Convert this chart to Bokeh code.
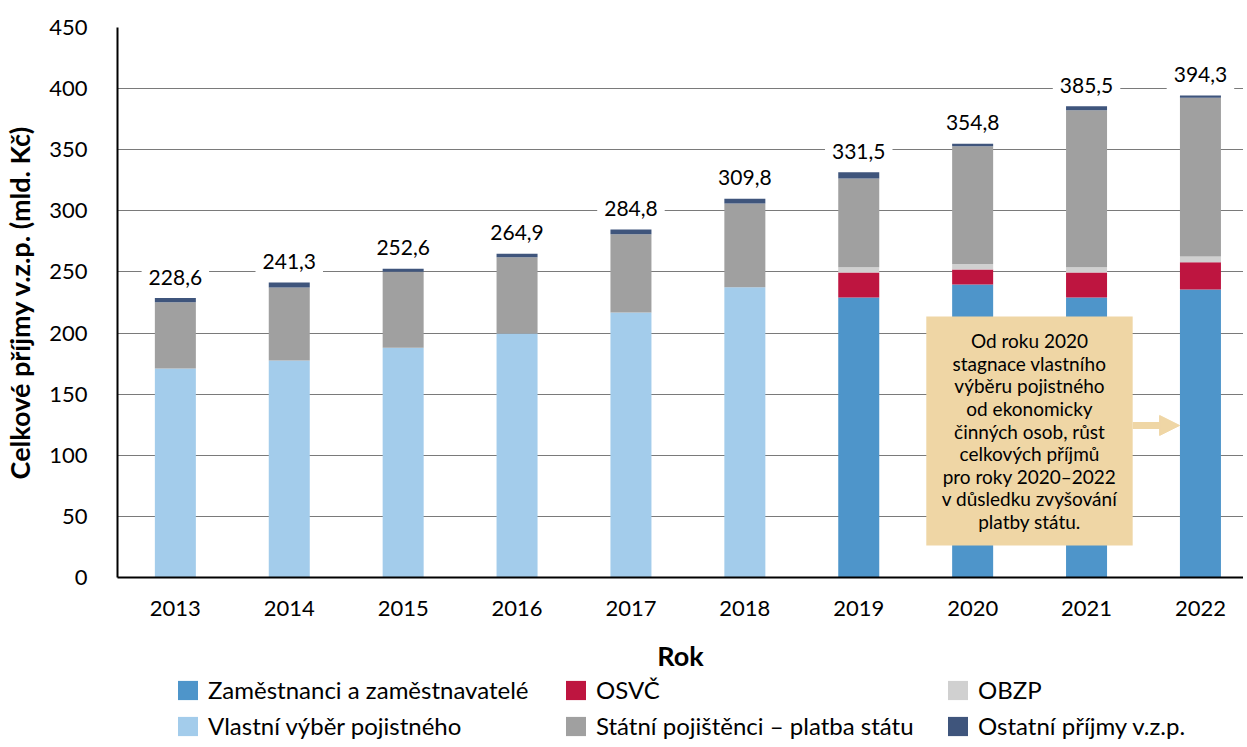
from bokeh.plotting import figure
from bokeh.layouts import column
from bokeh.models import (ColumnDataSource, Range1d, FixedTicker, Legend,
                          LegendItem, BoxAnnotation, Label, Arrow, NormalHead)
from bokeh.embed import file_html
from bokeh.resources import INLINE

# ---- data ----
years = ["2013", "2014", "2015", "2016", "2017", "2018", "2019", "2020", "2021", "2022"]
zamestnanci = [0, 0, 0, 0, 0, 0, 229.1, 239.7, 229.1, 235.6]
vlastni_vyber = [171.0, 177.5, 187.9, 199.6, 216.8, 237.5, 0, 0, 0, 0]
osvc = [0, 0, 0, 0, 0, 0, 20.4, 12.3, 20.4, 22.4]
obzp = [0, 0, 0, 0, 0, 0, 4.4, 4.4, 4.4, 4.6]
statni = [54.2, 59.8, 62.2, 62.5, 64.1, 68.5, 72.6, 96.4, 128.4, 129.9]
ostatni = [3.4, 4.0, 2.5, 2.8, 3.9, 3.8, 5.0, 2.0, 3.2, 1.8]
totals = [228.6, 241.3, 252.6, 264.9, 284.8, 309.8, 331.5, 354.8, 385.5, 394.3]
y_ticks = [0, 50, 100, 150, 200, 250, 300, 350, 400, 450]

series = ["zam", "vlastni", "osvc", "obzp", "statni", "ostatni"]
names = ["Zaměstnanci a zaměstnavatelé", "Vlastní výběr pojistného", "OSVČ",
         "OBZP", "Státní pojištěnci – platba státu", "Ostatní příjmy v.z.p."]
colors = ["#4E95CA", "#A3CCEB", "#BE1540", "#D0D0D0", "#A0A0A0", "#3F557C"]
legend_columns = [[0, 1], [2, 4], [3, 5]]

note = ("Od roku 2020\nstagnace vlastního\nvýběru pojistného\nod ekonomicky\n"
        "činných osob, růst\ncelkových příjmů\npro roky 2020–2022\nv důsledku zvyšování\nplatby státu.")

FONT = "Lato"
W = 1243
x = list(range(len(years)))
src = ColumnDataSource(dict(x=x, zam=zamestnanci, vlastni=vlastni_vyber, osvc=osvc,
                            obzp=obzp, statni=statni, ostatni=ostatni))

p = figure(width=W, height=676, output_backend="svg", toolbar_location=None,
           x_range=Range1d(-0.508, 9.378), y_range=Range1d(0, 450),
           min_border_left=114, min_border_right=0, min_border_top=27, min_border_bottom=99)
p.outline_line_color = None

rs = p.vbar_stack(series, x="x", width=0.36, source=src, color=colors, line_color=None)

# axes
p.yaxis.ticker = FixedTicker(ticks=y_ticks)
p.xaxis.ticker = FixedTicker(ticks=x)
p.xaxis.major_label_overrides = {i: y for i, y in zip(x, years)}
for ax in (p.xaxis, p.yaxis):
    ax.major_label_text_font = FONT
    ax.major_label_text_font_size = "22px"
    ax.major_label_text_color = "black"
    ax.axis_line_color = "black"
    ax.axis_line_width = 2
    ax.major_tick_line_color = None
    ax.minor_tick_line_color = None
    ax.axis_label_text_font = FONT
    ax.axis_label_text_font_size = "27px"
    ax.axis_label_text_font_style = "bold"
    ax.axis_label_text_color = "black"
p.yaxis.major_label_standoff = 24
p.xaxis.major_label_standoff = 17
p.yaxis.axis_label = "Celkové příjmy v.z.p. (mld. Kč)"
p.yaxis.axis_label_standoff = 10
p.xaxis.axis_label = "Rok"
p.xaxis.axis_label_standoff = 20
p.xgrid.grid_line_color = None
p.ygrid.grid_line_color = "#7a7a7a"
p.ygrid.grid_line_width = 1
p.ygrid.ticker = FixedTicker(ticks=y_ticks)

# totals labels
for xi, t in zip(x, totals):
    p.add_layout(Label(x=xi, y=t, y_offset=21, text=f"{t:.1f}".replace(".", ","),
                       text_align="center", text_baseline="middle", text_font=FONT,
                       text_font_size="21px", text_color="black",
                       background_fill_color="white", padding=7))

# annotation box
p.add_layout(BoxAnnotation(left=6.593, right=8.405, bottom=26.2, top=213.5,
                           fill_color="#EFD6A5", fill_alpha=1, line_color=None))
p.add_layout(Label(x=7.499, y=119.8, text=note, text_align="center", text_baseline="middle",
                   text_font=FONT, text_font_size="19px", text_color="black",
                   text_line_height=0.98))
p.add_layout(Arrow(x_start=8.405, y_start=124.4, x_end=8.817, y_end=124.4,
                   line_color="#EFD6A5", line_width=7,
                   end=NormalHead(size=20, fill_color="#EFD6A5", line_color="#EFD6A5")))

# legend strip below the chart (frame is aligned with the main frame)
lf = figure(width=W, height=68, output_backend="svg", toolbar_location=None,
            x_range=Range1d(0, 1), y_range=Range1d(0, 1),
            x_axis_location=None, y_axis_location=None,
            min_border_left=0, min_border_right=0, min_border_top=0, min_border_bottom=0)
lf.outline_line_color = None
for g in list(lf.center):
    g.visible = False
# swatch renderers (zero-height, used only for legend glyphs)
swatches = [lf.vbar(x=[0.5], top=[0], bottom=[0], width=0.0, color=c, line_color=None)
            for c in colors]

for col, xp in zip(legend_columns, [58, 446, 828]):
    items = [LegendItem(label=names[i], renderers=[swatches[i]]) for i in col]
    lf.add_layout(Legend(items=items, location=(xp, 4), orientation="vertical",
                         label_text_font=FONT, label_text_font_size="24px",
                         label_text_color="black", glyph_width=25, glyph_height=24,
                         label_height=24, label_standoff=8, spacing=7, padding=0, margin=0,
                         border_line_color=None, background_fill_alpha=0))

open("out.html", "w").write(file_html(column(p, lf, spacing=0), INLINE))
